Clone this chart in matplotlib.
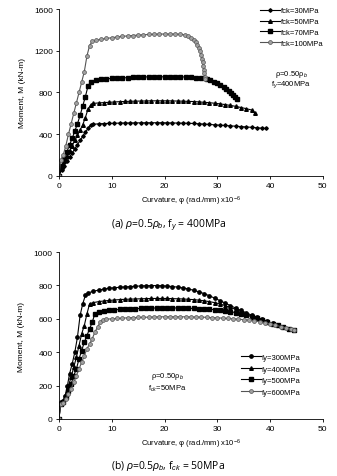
import matplotlib
matplotlib.use("Agg")
import matplotlib.pyplot as plt
import numpy as np

plt.rcParams['font.family'] = ['Liberation Sans', 'DejaVu Sans']
plt.rcParams['mathtext.fontset'] = 'custom'
plt.rcParams['mathtext.rm'] = 'Liberation Sans'
plt.rcParams['mathtext.it'] = 'Liberation Sans:italic'

# ---- (a) fy = 400 MPa, varying fck ----
a30_x = [0, 0.5, 1, 1.5, 2, 2.5, 3, 3.5, 4, 4.5, 5, 5.5, 6, 6.5, 7.5, 8.5, 9.5, 10.5, 11.5, 12.5,
         13.5, 14.5, 15.5, 16.5, 17.5, 18.5, 19.5, 20.5, 21.5, 22.5, 23.5, 24.5, 25.5, 26.5, 27.5,
         28.5, 29.5, 30.5, 31.5, 32.5, 33.5, 34.5, 35.5, 36.5, 37.5, 38.5, 39.3]
a30_y = [0, 60, 100, 140, 180, 220, 260, 300, 340, 380, 420, 455, 490, 495, 500, 502, 504, 505, 507, 508,
         508, 509, 509, 510, 510, 510, 510, 509, 508, 507, 506, 505, 503, 500, 497,
         494, 490, 487, 484, 480, 477, 473, 470, 466, 462, 458, 455]

a50_x = [0, 0.5, 1, 1.5, 2, 2.5, 3, 3.5, 4, 4.5, 5, 5.5, 6, 6.5, 7.5, 8.5, 9.5, 10.5, 11.5, 12.5,
         13.5, 14.5, 15.5, 16.5, 17.5, 18.5, 19.5, 20.5, 21.5, 22.5, 23.5, 24.5, 25.5, 26.5, 27.5,
         28.5, 29.5, 30.5, 31.5, 32.5, 33.5, 34.5, 35.5, 36.5, 37.2]
a50_y = [0, 90, 140, 190, 240, 290, 340, 390, 440, 490, 560, 640, 680, 695, 700, 703, 706, 709, 712, 714,
         716, 717, 718, 719, 720, 720, 720, 720, 719, 718, 717, 715, 713, 710, 706,
         702, 697, 691, 684, 676, 667, 656, 645, 632, 603]

a70_x = [0, 0.5, 1, 1.5, 2, 2.5, 3, 3.5, 4, 4.5, 5, 5.5, 6, 7, 8, 9, 10, 11, 12, 13, 14, 15, 16, 17,
         18, 19, 20, 21, 22, 23, 24, 25, 26, 27, 28, 28.7, 29.4, 30, 30.6, 31.2, 31.7, 32.2, 32.6,
         33, 33.4, 33.8]
a70_y = [0, 100, 170, 230, 300, 360, 430, 500, 580, 670, 760, 860, 900, 915, 925, 930, 935, 938, 940, 942,
         945, 946, 948, 950, 950, 950, 950, 950, 950, 950, 948, 946, 942, 937, 930, 920, 905, 890,
         873, 855, 836, 815, 795, 775, 755, 740]

a100_x = [0, 0.3, 0.8, 1.3, 1.8, 2.3, 2.8, 3.3, 3.8, 4.3, 4.8, 5.3, 5.8, 6.3, 7, 8, 9, 10, 11, 12, 13,
          14, 15, 16, 17, 18, 19, 20, 21, 22, 23, 23.8, 24.5, 25, 25.5, 25.9, 26.2, 26.5, 26.7, 26.9,
          27.05, 27.2, 27.3, 27.4, 27.5, 27.6, 27.65]
a100_y = [0, 150, 200, 290, 400, 500, 600, 700, 800, 900, 1000, 1150, 1250, 1290, 1300, 1310, 1318, 1325,
          1332, 1338, 1342, 1346, 1350, 1353, 1356, 1358, 1360, 1360, 1360, 1360, 1358, 1352, 1340, 1325,
          1305, 1280, 1255, 1225, 1195, 1160, 1125, 1090, 1055, 1020, 985, 950, 930]

# ---- (b) fck = 50 MPa, varying fy ----
b300_x = [0, 0.3, 0.8, 1.2, 1.6, 2, 2.5, 3, 3.5, 4, 4.5, 5, 5.5, 6.5, 7.5, 8.5, 9.5, 10.5, 11.5, 12.5,
          13.5, 14.5, 15.5, 16.5, 17.5, 18.5, 19.5, 20.5, 21.5, 22.5, 23.5, 24.5, 25.5, 26.5, 27.5,
          28.5, 29.5, 30.5, 31.5, 32.5, 33.5, 34.5, 35.5, 36.5, 37.5, 38.5, 39.5, 40.5, 41.5, 42.5,
          43.5, 44.5]
b300_y = [0, 100, 110, 140, 200, 270, 330, 400, 490, 620, 690, 740, 755, 765, 772, 778, 783, 786, 789, 791,
          793, 795, 797, 798, 799, 799, 798, 796, 793, 790, 785, 779, 771, 762, 751,
          738, 724, 709, 694, 679, 664, 650, 636, 622, 609, 597, 585, 573, 562, 552,
          542, 533]

b400_x = [0, 0.3, 0.8, 1.3, 1.8, 2.3, 2.8, 3.3, 3.8, 4.3, 4.8, 5.3, 5.8, 6.5, 7.5, 8.5, 9.5, 10.5, 11.5,
          12.5, 13.5, 14.5, 15.5, 16.5, 17.5, 18.5, 19.5, 20.5, 21.5, 22.5, 23.5, 24.5, 25.5, 26.5,
          27.5, 28.5, 29.5, 30.5, 31.5, 32.5, 33.5, 34.5, 35.5, 36.5, 37.5, 38.5, 39.5, 40.5, 41.5,
          42.5, 43.5, 44.5]
b400_y = [0, 95, 110, 150, 200, 250, 310, 370, 440, 510, 560, 630, 690, 697, 703, 707, 710, 713, 715,
          717, 718, 719, 720, 721, 722, 722, 722, 722, 721, 720, 719, 717, 715, 712,
          708, 703, 697, 689, 679, 668, 656, 643, 630, 617, 605, 594, 583, 572, 562,
          552, 542, 533]

b500_x = [0, 0.3, 0.8, 1.3, 1.8, 2.3, 2.8, 3.3, 3.8, 4.3, 4.8, 5.3, 5.8, 6.3, 6.8, 7.5, 8.5, 9.5, 10.5,
          11.5, 12.5, 13.5, 14.5, 15.5, 16.5, 17.5, 18.5, 19.5, 20.5, 21.5, 22.5, 23.5, 24.5, 25.5,
          26.5, 27.5, 28.5, 29.5, 30.5, 31.5, 32.5, 33.5, 34.5, 35.5, 36.5, 37.5, 38.5, 39.5, 40.5,
          41.5, 42.5, 43.5, 44.5]
b500_y = [0, 90, 100, 130, 170, 210, 260, 300, 360, 410, 460, 500, 540, 580, 630, 642, 648, 651, 654,
          656, 658, 660, 661, 662, 663, 664, 665, 665, 665, 665, 665, 664, 663, 662,
          661, 659, 657, 655, 652, 648, 643, 637, 630, 622, 613, 604, 594, 583, 572,
          562, 552, 542, 533]

b600_x = [0, 0.3, 0.8, 1.3, 1.8, 2.3, 2.8, 3.3, 3.8, 4.3, 4.8, 5.3, 5.8, 6.3, 6.8, 7.3, 7.8, 8.3, 9, 10,
          11, 12, 13, 14, 15, 16, 17, 18, 19, 20, 21, 22, 23, 24, 25, 26, 27, 28, 29, 30, 31, 32, 33,
          34, 35, 36, 37, 38, 39, 40, 41, 42, 43, 44, 44.5]
b600_y = [0, 90, 95, 120, 150, 180, 220, 260, 300, 340, 380, 420, 450, 480, 520, 550, 580, 595, 598, 600,
          602, 604, 606, 607, 608, 609, 610, 611, 612, 612, 612, 612, 612, 612, 611, 611, 610, 609, 607,
          606, 604, 602, 600, 598, 595, 592, 588, 583, 577, 570, 562, 554, 546, 538, 533]

labels_a = ['fck=30MPa', 'fck=50MPa', 'fck=70MPa', 'fck=100MPa']
labels_b = ['fy=300MPa', 'fy=400MPa', 'fy=500MPa', 'fy=600MPa']

styles = [
    dict(color='black', marker='D', markersize=1.8),
    dict(color='black', marker='^', markersize=2.6),
    dict(color='black', marker='s', markersize=2.4),
    dict(color='#555555', marker='o', markersize=2.8, markerfacecolor='#a0a0a0',
         markeredgecolor='#555555', markeredgewidth=0.5),
]


def style_axes(ax, ymax, ystep):
    for s in ['top', 'right']:
        ax.spines[s].set_visible(False)
    for s in ['left', 'bottom']:
        ax.spines[s].set_linewidth(0.6)
    ax.set_xlim(0, 50)
    ax.set_ylim(0, ymax)
    ax.set_xticks(np.arange(0, 51, 10))
    ax.set_yticks(np.arange(0, ymax + 1, ystep))
    ax.tick_params(direction='out', length=2.5, width=0.6, labelsize=6, pad=2)
    ax.set_xlabel(r'Curvature, φ (rad./mm) x10$^{-6}$', fontsize=5.5, labelpad=3)
    ax.set_ylabel('Moment, M (kN-m)', fontsize=6, labelpad=6)


fig = plt.figure(figsize=(3.37, 4.77), dpi=100)

ax1 = fig.add_axes([0.175, 0.629, 0.783, 0.35])
for (x, y), lab, st in zip([(a30_x, a30_y), (a50_x, a50_y), (a70_x, a70_y), (a100_x, a100_y)],
                           labels_a, styles):
    ax1.plot(x, y, linewidth=0.8, label=lab, **st)
style_axes(ax1, 1600, 400)
ax1.legend(loc='upper left', bbox_to_anchor=(0.75, 1.03), frameon=False, fontsize=5.5,
           handlelength=2.6, handletextpad=0.1, labelspacing=0.45, borderaxespad=0)
ax1.text(44, 985, r'ρ=0.50ρ$_b$', fontsize=5.5, ha='center', va='center')
ax1.text(44, 885, r'f$_y$=400MPa', fontsize=5.5, ha='center', va='center')

ax2 = fig.add_axes([0.175, 0.1195, 0.783, 0.35])
for (x, y), lab, st in zip([(b300_x, b300_y), (b400_x, b400_y), (b500_x, b500_y), (b600_x, b600_y)],
                           labels_b, styles):
    st2 = dict(st)
    if st2['marker'] == 'D':
        st2['marker'] = 'o'
        st2['markersize'] = 2.4
    ax2.plot(x, y, linewidth=0.8, label=lab, **st2)
style_axes(ax2, 1000, 200)
ax2.legend(loc='upper left', bbox_to_anchor=(0.68, 0.41), frameon=False, fontsize=5.5,
           handlelength=2.6, handletextpad=0.1, labelspacing=0.55, borderaxespad=0)
ax2.text(20.5, 262, r'ρ=0.50ρ$_b$', fontsize=5.5, ha='center', va='center')
ax2.text(20.5, 185, r'f$_{ck}$=50MPa', fontsize=5.5, ha='center', va='center')

fig.text(0.50, 1 - 226 / 477, r'(a) $\mathit{ρ}$=0.5$\mathit{ρ}_b$, f$_y$ = 400MPa',
         fontsize=7.5, ha='center', va='center', family='Open Sans')
fig.text(0.50, 1 - 466 / 477, r'(b) $\mathit{ρ}$=0.5$\mathit{ρ}_b$, f$_{ck}$ = 50MPa',
         fontsize=7.5, ha='center', va='center', family='Open Sans')

fig.savefig('out.png', dpi=100)
